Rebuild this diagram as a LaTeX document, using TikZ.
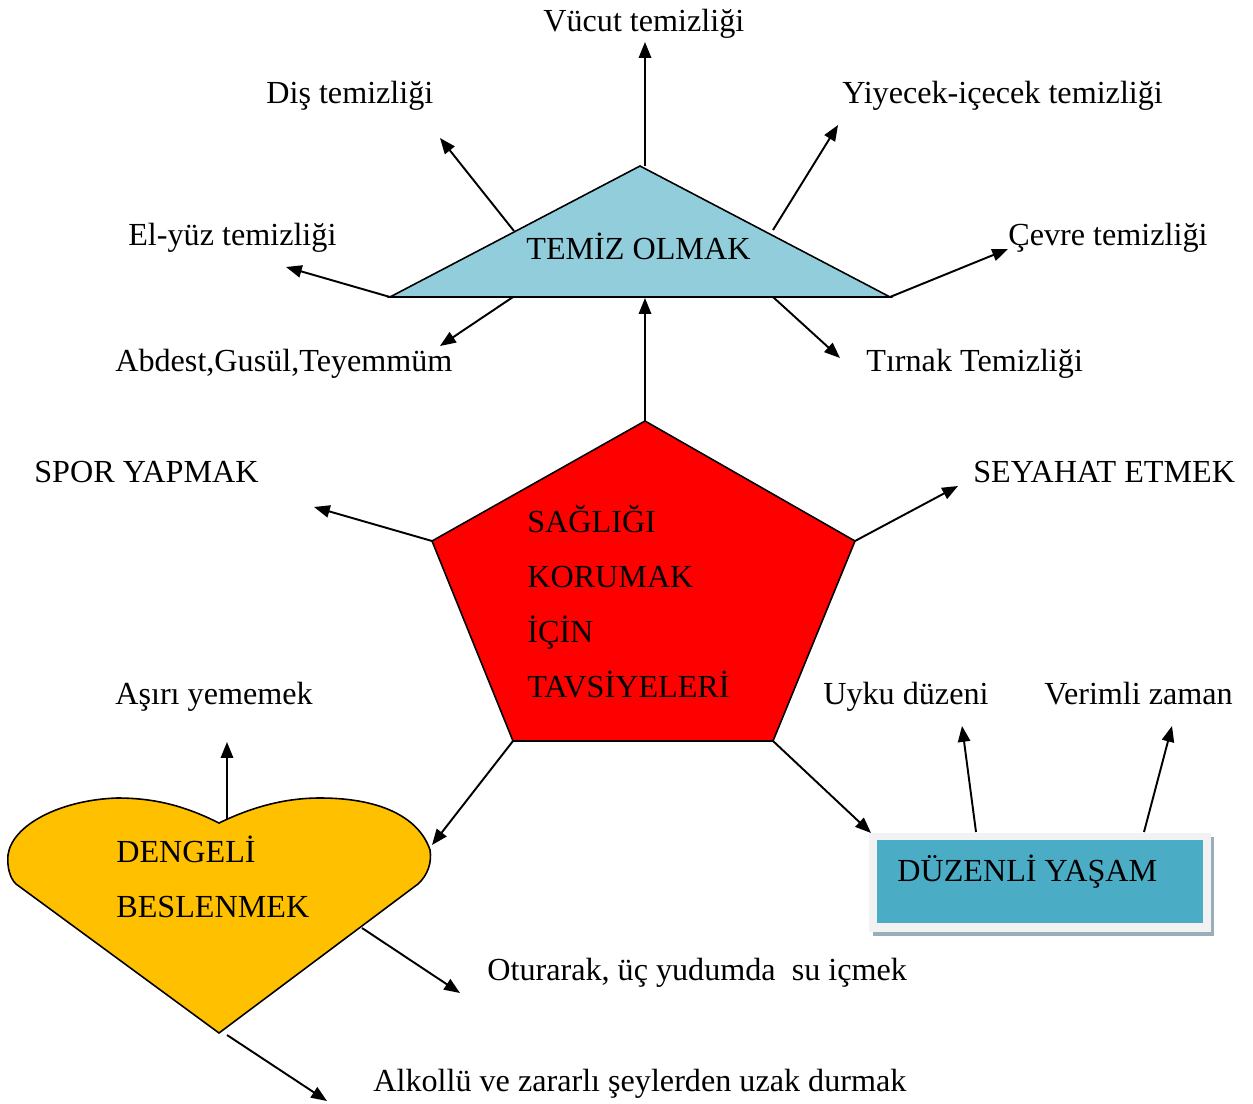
\documentclass[tikz,border=0pt]{standalone}
\usepackage{fontspec}
\setmainfont{Liberation Serif}
\usetikzlibrary{arrows.meta}

\definecolor{temizmavi}{HTML}{92CDDC}
\definecolor{saglikkirmizi}{HTML}{FF0000}
\definecolor{kalpsari}{HTML}{FFC000}
\definecolor{yasammavi}{HTML}{4BACC6}
\definecolor{kutuacik}{HTML}{F2F2F2}
\definecolor{golge}{HTML}{98AEB9}

\tikzset{
  ok/.style={-{Triangle[length=9pt,width=7pt]}, line width=1.1pt},
  sekil/.style={draw=black, line width=0.9pt, line join=miter},
  etiket/.style={anchor=base west, inner sep=0pt, font=\fontsize{18.3}{22}\selectfont},
}

\begin{document}
\begin{tikzpicture}[x=0.02cm, y=-0.02cm]
  \useasboundingbox (0,0) rectangle (1253,1104);

  % Triangle (TEMIZ OLMAK)
  \coordinate (tUst) at (640,166);
  \coordinate (tSol) at (390,297);
  \coordinate (tSag) at (890,297);
  \draw[sekil, fill=temizmavi] (tUst) -- (tSol) -- (tSag) -- cycle;
  \node[etiket] (temiz) at (526,260) {TEMİZ OLMAK};

  % Pentagon (centre)
  \coordinate (pUst) at (645,421);
  \coordinate (pSolUst) at (432,541);
  \coordinate (pSagUst) at (855,541);
  \coordinate (pSolAlt) at (513,741);
  \coordinate (pSagAlt) at (773,741);
  \draw[sekil, fill=saglikkirmizi] (pUst) -- (pSagUst) -- (pSagAlt) -- (pSolAlt) -- (pSolUst) -- cycle;
  \node[etiket] (s1) at (527,532) {SAĞLIĞI};
  \node[etiket] (s2) at (527,587) {KORUMAK};
  \node[etiket] (s3) at (527,642) {İÇİN};
  \node[etiket] (s4) at (527,697) {TAVSİYELERİ};

  % Heart (DENGELI BESLENMEK)
  \draw[sekil, fill=kalpsari] (219,823)
    .. controls (185,806) and (155,798) .. (117,798)
    .. controls (60,800) and (12,825) .. (8,855)
    .. controls (7,868) and (10,878) .. (16,884)
    -- (219,1033) -- (418,884)
    .. controls (428,875) and (432,862) .. (430,850)
    .. controls (420,820) and (385,798) .. (320,798)
    .. controls (283,798) and (250,808) .. (219,823) -- cycle;
  \node[etiket] (d1) at (116,862) {DENGELİ};
  \node[etiket] (d2) at (116,917) {BESLENMEK};

  % Box (DUZENLI YASAM) with shadow
  \fill[golge] (873,837) rectangle (1214,936);
  \fill[kutuacik] (869,833) rectangle (1211,932);
  \fill[yasammavi] (877,840) rectangle (1203,923);
  \node[etiket] (yasam) at (897,881) {DÜZENLİ YAŞAM};

  % Labels
  \node[etiket] (vucut) at (543,32) {Vücut temizliği};
  \node[etiket] (dis) at (266,104) {Diş temizliği};
  \node[etiket] (yiyecek) at (842,104) {Yiyecek-içecek temizliği};
  \node[etiket] (elyuz) at (128,246) {El-yüz temizliği};
  \node[etiket] (cevre) at (1008,246) {Çevre temizliği};
  \node[etiket] (abdest) at (115,372) {Abdest,Gusül,Teyemmüm};
  \node[etiket] (tirnak) at (866,372) {Tırnak Temizliği};
  \node[etiket] (spor) at (34,482) {SPOR YAPMAK};
  \node[etiket] (seyahat) at (973,482) {SEYAHAT ETMEK};
  \node[etiket] (asiri) at (115,704) {Aşırı yememek};
  \node[etiket] (uyku) at (823,704) {Uyku düzeni};
  \node[etiket] (verimli) at (1044,704) {Verimli zaman};
  \node[etiket] (oturarak) at (487,980) {Oturarak, üç yudumda \ su içmek};
  \node[etiket] (alkol) at (373,1091) {Alkollü ve zararlı şeylerden uzak durmak};

  % Arrows from the triangle
  \draw[ok] (645,166) -- (645,42);
  \draw[ok] (514,231) -- (440,138);
  \draw[ok] (773,230) -- (838,125);
  \draw[ok] (tSol) -- (286,267);
  \draw[ok] (tSag) -- (1008,249);
  \draw[ok] (513,297) -- (440,346);
  \draw[ok] (773,297) -- (840,358);

  % Arrows from the pentagon
  \draw[ok] (pUst) -- (645,298);
  \draw[ok] (pSolUst) -- (314,507);
  \draw[ok] (pSagUst) -- (958,486);
  \draw[ok] (pSolAlt) -- (432,845);
  \draw[ok] (pSagAlt) -- (871,833);

  % Arrows from the heart
  \draw[ok] (227,820) -- (227,742);
  \draw[ok] (362,928) -- (460,993);
  \draw[ok] (227,1035) -- (327,1101);

  % Arrows from the box
  \draw[ok] (976,832) -- (962,726);
  \draw[ok] (1144,832) -- (1172,726);
\end{tikzpicture}
\end{document}
